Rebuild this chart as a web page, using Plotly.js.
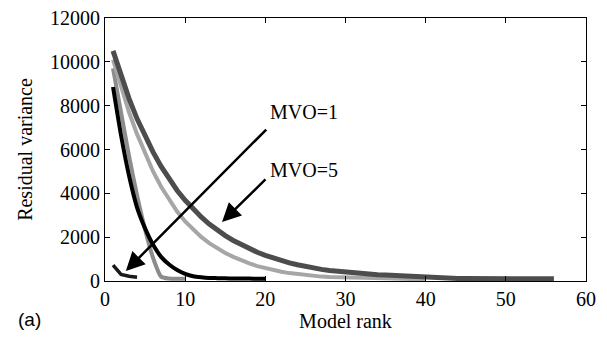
<!DOCTYPE html>
<html>
<head>
<meta charset="utf-8">
<script src="https://cdn.plot.ly/plotly-3.0.1.min.js"></script>
<style>
  html, body { margin: 0; padding: 0; background: #fff; }
  #chart { width: 607px; height: 340px; }
</style>
</head>
<body>
<div id="chart"></div>
<script>
// Model rank values for each curve
const rankA = [1,2,3,4,5,6,7,8,9,10,11,12,13,14,15,16,17,18,19,20,21,22,23,24,25,26,27,28,29,30,31,32,33,34,35,36,37,38,39,40,41,42,43,44,45,46,47,48,49,50,51,52,53,54,55,56];
const varA  = [10500,9350,8320,7400,6600,5880,5230,4650,4130,3680,3280,2920,2600,2320,2070,1850,1650,1470,1310,1170,1040,930,830,740,660,590,530,480,440,400,370,340,310,290,270,250,230,210,180,150,130,120,120,115,115,110,110,110,105,105,100,100,100,100,100,100];

const rankB = [1,2,3,4,5,6,7,8,9,10,11,12,13,14,15,16,17,18,19,20,21,22,23,24,25,26,27,28,29,30,31,32,33,34,35,36,37,38,39,40];
const varB  = [10100,8850,7700,6700,5800,5000,4300,3700,3170,2720,2340,2010,1730,1490,1280,1100,940,800,680,580,490,420,360,310,270,230,200,180,165,155,145,140,135,130,120,110,95,85,80,75];

const rankC = [1,2,3,4,5,6,7,8,9,10,11,12,13,14,15,16,17,18,19,20];
const varC  = [8850,6650,4800,3350,2400,1650,1100,750,500,330,220,170,140,130,120,115,110,110,105,100];

const rankD = [1,2,3,4,5,6,7,8,9,10];
const varD  = [9700,7700,5700,3900,2350,1050,200,110,100,100];

const rankE = [1,2,3,4];
const varE  = [720,300,220,170];

const xTicks = [0,10,20,30,40,50,60];
const yTicks = [0,2000,4000,6000,8000,10000,12000];

const serif = 'Liberation Serif, Times New Roman, serif';

const traces = [
  {x: rankD, y: varD, mode: 'lines', line: {color: '#8c8c8c', width: 4, shape: 'spline', smoothing: 0.6}, hoverinfo: 'skip'},
  {x: rankB, y: varB, mode: 'lines', line: {color: '#a6a6a6', width: 4}, hoverinfo: 'skip'},
  {x: rankA, y: varA, mode: 'lines', line: {color: '#4d4d4d', width: 5}, hoverinfo: 'skip'},
  {x: rankC, y: varC, mode: 'lines', line: {color: '#000000', width: 4, shape: 'spline', smoothing: 0.6}, hoverinfo: 'skip'},
  {x: rankE, y: varE, mode: 'lines', line: {color: '#1a1a1a', width: 3.5}, hoverinfo: 'skip'}
];

const layout = {
  width: 607, height: 340,
  margin: {l: 105, r: 21, t: 18, b: 59},
  paper_bgcolor: '#fff', plot_bgcolor: '#fff',
  showlegend: false,
  font: {family: serif, size: 20, color: '#000'},
  xaxis: {
    range: [0, 60], tickvals: xTicks, ticktext: xTicks.map(String),
    ticks: 'inside', ticklen: 5, tickcolor: '#000', mirror: 'ticks',
    showline: true, linecolor: '#000', linewidth: 1, showgrid: false, zeroline: false,
    tickfont: {family: serif, size: 20},
    title: {text: 'Model rank', font: {family: serif, size: 20}, standoff: 2}
  },
  yaxis: {
    range: [0, 12000], tickvals: yTicks, ticktext: yTicks.map(String),
    ticks: 'inside', ticklen: 5, tickcolor: '#000', mirror: 'ticks',
    showline: true, linecolor: '#000', linewidth: 1, showgrid: false, zeroline: false,
    tickfont: {family: serif, size: 20},
    title: {text: 'Residual variance', font: {family: serif, size: 20}, standoff: 12}
  },
  annotations: [
    {x: 20.3, y: 7700, xref: 'x', yref: 'y', text: 'MVO=1', showarrow: false,
     xanchor: 'left', yanchor: 'middle', font: {family: serif, size: 20}},
    {x: 20.3, y: 5060, xref: 'x', yref: 'y', text: 'MVO=5', showarrow: false,
     xanchor: 'left', yanchor: 'middle', font: {family: serif, size: 20}},
    {x: 2.6, y: 456, xref: 'x', yref: 'y', ax: 20.3, ay: 6980, axref: 'x', ayref: 'y',
     text: '', showarrow: true, arrowhead: 2, arrowsize: 1.5, arrowwidth: 2.5, arrowcolor: '#000'},
    {x: 14.6, y: 2690, xref: 'x', yref: 'y', ax: 20.2, ay: 4700, axref: 'x', ayref: 'y',
     text: '', showarrow: true, arrowhead: 2, arrowsize: 1.5, arrowwidth: 2.5, arrowcolor: '#000'},
    {x: -0.158, y: -0.148, xref: 'paper', yref: 'paper', text: '(a)', showarrow: false,
     xanchor: 'center', yanchor: 'middle', font: {family: 'Liberation Sans, Arial, sans-serif', size: 19}}
  ]
};

Plotly.newPlot('chart', traces, layout, {staticPlot: true, displayModeBar: false});
</script>
</body>
</html>
